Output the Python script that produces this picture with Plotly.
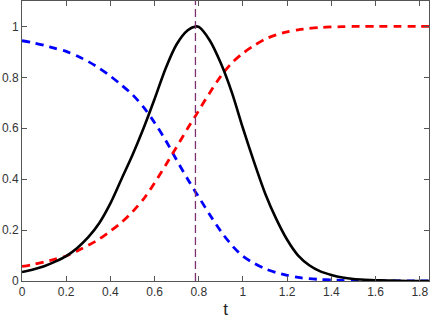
import plotly.graph_objects as go

# sample times (t)
t = [0.00, 0.05, 0.10, 0.15, 0.20, 0.25, 0.30, 0.35, 0.40, 0.45,
     0.50, 0.55, 0.60, 0.65, 0.70, 0.75, 0.785, 0.80, 0.85, 0.90,
     0.95, 1.00, 1.05, 1.10, 1.15, 1.20, 1.25, 1.30, 1.35, 1.40,
     1.45, 1.50, 1.55, 1.60, 1.65, 1.70, 1.75, 1.80, 1.85]

# solid black bell curve
pulse = [0.035, 0.045, 0.058, 0.076, 0.098, 0.13, 0.172, 0.228, 0.305, 0.40,
         0.495, 0.60, 0.715, 0.835, 0.93, 0.985, 1.0, 0.998, 0.945, 0.855,
         0.74, 0.60, 0.468, 0.345, 0.245, 0.162, 0.10, 0.062, 0.038, 0.024,
         0.014, 0.008, 0.005, 0.003, 0.002, 0.001, 0.0, 0.0, 0.0]

# red dashed rising curve
rising = [0.057, 0.065, 0.075, 0.086, 0.098, 0.118, 0.14, 0.165, 0.196, 0.23,
          0.272, 0.322, 0.385, 0.455, 0.527, 0.60, 0.648, 0.67, 0.74, 0.805,
          0.857, 0.895, 0.925, 0.95, 0.967, 0.979, 0.987, 0.992, 0.996, 0.998,
          0.999, 1.0, 1.0, 1.0, 1.0, 1.0, 1.0, 1.0, 1.0]

# blue dashed falling curve
falling = [0.944, 0.936, 0.926, 0.914, 0.902, 0.884, 0.862, 0.836, 0.805, 0.77,
           0.732, 0.683, 0.622, 0.553, 0.475, 0.40, 0.35, 0.33, 0.26, 0.195,
           0.14, 0.097, 0.07, 0.048, 0.033, 0.022, 0.014, 0.009, 0.006, 0.004,
           0.002, 0.001, 0.001, 0.0, 0.0, 0.0, 0.0, 0.0, 0.0]

t_peak = 0.785

fig = go.Figure()

fig.add_trace(go.Scatter(x=t, y=falling, mode='lines',
                         line=dict(color='#0000ff', width=2.8, dash='8px,6px',
                                   shape='spline', smoothing=0.8)))
fig.add_trace(go.Scatter(x=t, y=rising, mode='lines',
                         line=dict(color='#ff0000', width=2.8, dash='8px,6px',
                                   shape='spline', smoothing=0.8)))
fig.add_trace(go.Scatter(x=t, y=pulse, mode='lines',
                         line=dict(color='black', width=2.6,
                                   shape='spline', smoothing=0.8)))

fig.add_vline(x=t_peak, line=dict(color='#7E2F6E', width=1.3, dash='8px,4px'))

axis_style = dict(showline=True, linecolor='#555555', linewidth=1, mirror='ticks',
                  ticks='inside', ticklen=5, tickcolor='#555555',
                  showgrid=False, zeroline=False, automargin=False,
                  tickfont=dict(family='Liberation Sans, Arial', size=12, color='#333333'))

fig.update_xaxes(range=[0, 1.842], tick0=0, dtick=0.2,
                 title=dict(text='t', font=dict(family='Liberation Sans, Arial',
                                                size=17, color='#222222'),
                            standoff=4),
                 **axis_style)
fig.update_yaxes(range=[0, 1.1], tick0=0, dtick=0.2, **axis_style)

fig.update_layout(
    width=432, height=321,
    margin=dict(l=22, r=3, t=1, b=40),
    plot_bgcolor='white', paper_bgcolor='white',
    showlegend=False)

# drop the browser's default body margin so the figure sits at the page corner
fig.write_html("out.html", config={'displayModeBar': False},
               post_script="document.body.style.margin='0';")
